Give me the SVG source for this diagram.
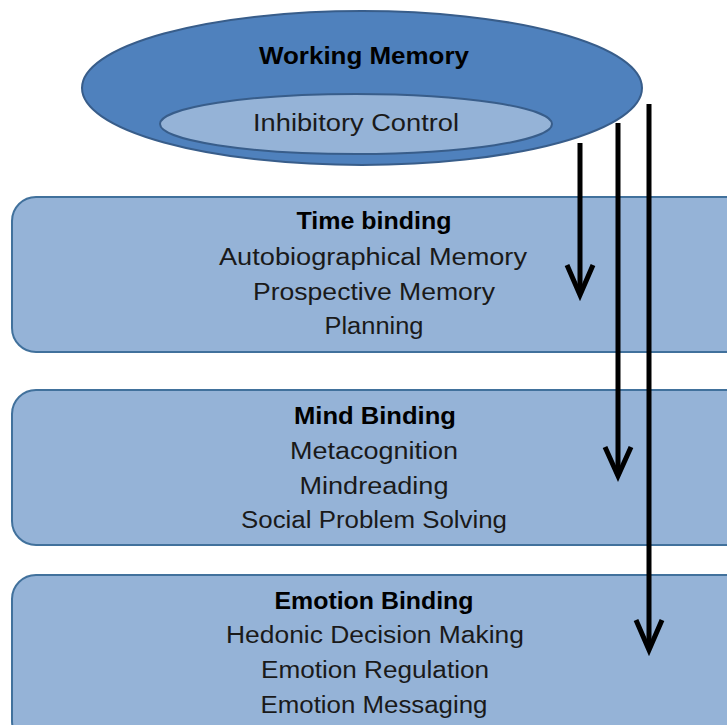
<svg xmlns="http://www.w3.org/2000/svg" width="727" height="725" viewBox="0 0 727 725">
<style>
.box{fill:#95b3d7;stroke:#41719c;stroke-width:2}
.t{font-family:"Liberation Sans",Arial,sans-serif;font-size:23px;fill:#1a1a1a;text-anchor:middle}
.b{font-weight:bold;fill:#000}
.arr{fill:none;stroke:#000;stroke-width:5}
</style>
<rect width="727" height="725" fill="#fff"/>
<g id="working-memory">
<ellipse cx="362" cy="88" rx="280" ry="77" fill="#4f81bd" stroke="#385d8a" stroke-width="2"/>
<text class="t b" x="364" y="64" textLength="210" lengthAdjust="spacingAndGlyphs">Working Memory</text>
</g>
<g id="inhibitory-control">
<ellipse cx="356" cy="124" rx="196" ry="30" fill="#95b3d7" stroke="#385d8a" stroke-width="2"/>
<text class="t" x="356" y="131" textLength="206" lengthAdjust="spacingAndGlyphs">Inhibitory Control</text>
</g>
<g id="time-binding">
<rect class="box" x="12" y="197" width="740" height="155" rx="24"/>
<text class="t b" x="374" y="229" textLength="155" lengthAdjust="spacingAndGlyphs">Time binding</text>
<text class="t" x="373" y="265" textLength="308" lengthAdjust="spacingAndGlyphs">Autobiographical Memory</text>
<text class="t" x="374" y="300" textLength="242" lengthAdjust="spacingAndGlyphs">Prospective Memory</text>
<text class="t" x="374" y="334" textLength="99" lengthAdjust="spacingAndGlyphs">Planning</text>
</g>
<g id="mind-binding">
<rect class="box" x="12" y="390" width="740" height="155" rx="24"/>
<text class="t b" x="375" y="424" textLength="162" lengthAdjust="spacingAndGlyphs">Mind Binding</text>
<text class="t" x="374" y="459" textLength="168" lengthAdjust="spacingAndGlyphs">Metacognition</text>
<text class="t" x="374" y="494" textLength="149" lengthAdjust="spacingAndGlyphs">Mindreading</text>
<text class="t" x="374" y="528" textLength="266" lengthAdjust="spacingAndGlyphs">Social Problem Solving</text>
</g>
<g id="emotion-binding">
<rect class="box" x="12" y="575" width="740" height="170" rx="24"/>
<text class="t b" x="374" y="609" textLength="199" lengthAdjust="spacingAndGlyphs">Emotion Binding</text>
<text class="t" x="375" y="643" textLength="298" lengthAdjust="spacingAndGlyphs">Hedonic Decision Making</text>
<text class="t" x="375" y="678" textLength="228" lengthAdjust="spacingAndGlyphs">Emotion Regulation</text>
<text class="t" x="374" y="713" textLength="227" lengthAdjust="spacingAndGlyphs">Emotion Messaging</text>
</g>
<g id="connectors">
<line class="arr" x1="580" y1="143" x2="580" y2="294"/>
<polyline class="arr" points="567,265 580,295 593,265"/>
<line class="arr" x1="618" y1="123" x2="618" y2="475"/>
<polyline class="arr" points="605,447 618,476 631,447"/>
<line class="arr" x1="649" y1="104" x2="649" y2="649"/>
<polyline class="arr" points="636,620 649,650 662,620"/>
</g>
</svg>
